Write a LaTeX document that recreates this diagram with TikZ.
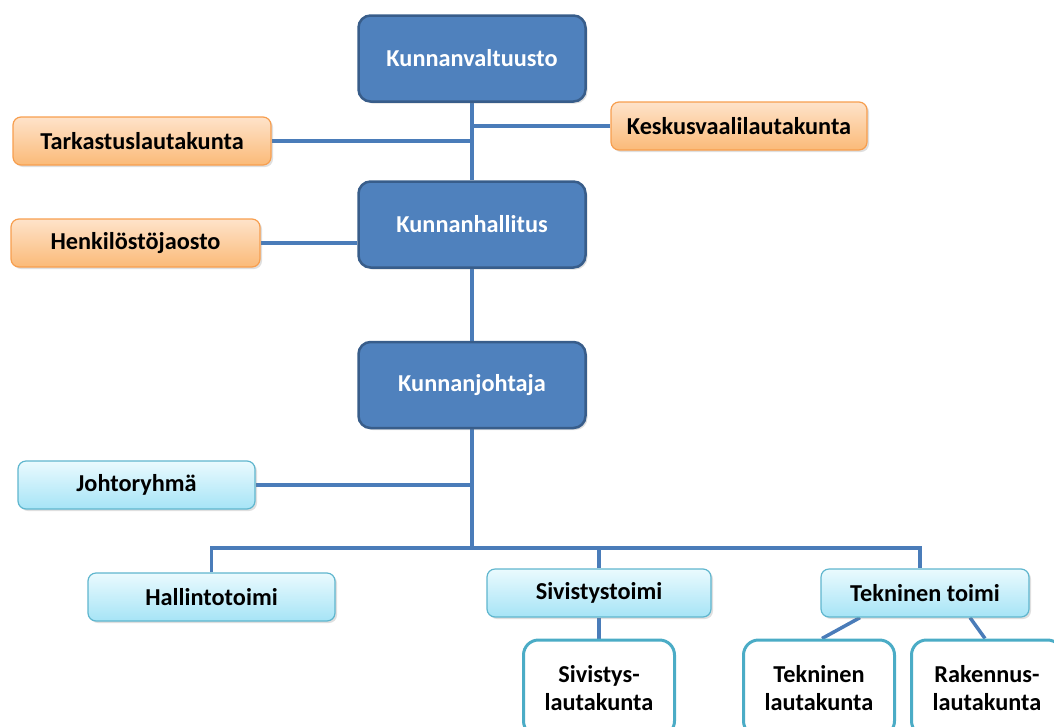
\documentclass[tikz,border=0pt]{standalone}
\usepackage{fontspec}
\setmainfont{Carlito}
\usetikzlibrary{shadows,calc,backgrounds}
\definecolor{bluefill}{HTML}{4F81BD}
\definecolor{blueborder}{HTML}{385D8A}
\definecolor{linecol}{HTML}{4A7CB9}
\definecolor{orTop}{HTML}{FEE3CA}
\definecolor{orBot}{HTML}{FBBA78}
\definecolor{orBorder}{HTML}{F79E4E}
\definecolor{cyTop}{HTML}{EAFAFE}
\definecolor{cyBot}{HTML}{A6E4F6}
\definecolor{cyBorder}{HTML}{5FB6CE}
\definecolor{tealBorder}{HTML}{4BACC6}
\tikzset{
  lbl/.style={font=\bfseries\fontsize{24.3}{28}\selectfont},
  mainbox/.style={lbl, draw=blueborder, line width=2.5pt, fill=bluefill, rounded corners=12pt,
    minimum width=227pt, minimum height=86pt, text=white,
    drop shadow={opacity=0.25, shadow xshift=2pt, shadow yshift=-2pt}},
  orbox/.style={lbl, draw=orBorder, line width=1.2pt, top color=orTop, bottom color=orBot,
    rounded corners=8pt, minimum height=48pt, text=black,
    drop shadow={opacity=0.25, shadow xshift=2pt, shadow yshift=-2pt}},
  cybox/.style={lbl, draw=cyBorder, line width=1.2pt, top color=cyTop, bottom color=cyBot,
    rounded corners=8pt, minimum height=48pt, text=black,
    drop shadow={opacity=0.25, shadow xshift=2pt, shadow yshift=-2pt}},
  wbox/.style={lbl, draw=tealBorder, line width=3pt, fill=white, rounded corners=15pt,
    minimum width=151pt, minimum height=96pt, align=center, text=black,
    font=\bfseries\fontsize{24.3}{28}\selectfont},
  conn/.style={draw=linecol, line width=3.5pt},
}
\begin{document}
\begin{tikzpicture}[x=1pt,y=-1pt]
\useasboundingbox (0,0) rectangle (1054,726);
\clip (0,0) rectangle (1054,726);
\node[mainbox] (valt) at (472,58.5) {Kunnanvaltuusto};
\node[mainbox] (hall) at (472,224.5) {Kunnanhallitus};
\node[mainbox] (kj) at (472,385) {Kunnanjohtaja};
\node[orbox, minimum width=258pt] (tark) at (142,141) {Tarkastuslautakunta};
\node[orbox, minimum width=256pt] (kesk) at (739,126) {Keskusvaalilautakunta};
\node[orbox, minimum width=249pt] (henk) at (135.5,243) {Henkilöstöjaosto};
\node[cybox, minimum width=237pt] (jr) at (136.5,485) {Johtoryhmä};
\node[cybox, minimum width=247pt] (halt) at (211.5,597) {Hallintotoimi};
\node[cybox, minimum width=224pt] (sivt) at (599,593) {Sivistystoimi};
\node[cybox, minimum width=208pt] (tekt) at (925,593) {Tekninen toimi};
\node[wbox] (sivl) at (599,688) {Sivistys-\\lautakunta};
\node[wbox] (tekl) at (819,688) {Tekninen\\lautakunta};
\node[wbox] (rakl) at (987,688) {Rakennus-\\lautakunta};
\coordinate (bus) at (472,548);
\coordinate (henkend) at (357,243);
\begin{pgfonlayer}{background}
\draw[conn] (valt.south) -- (hall.north);
\draw[conn] (hall.south) -- (kj.north);
\draw[conn] (kj.south) -- (bus);
\draw[conn] (tark.east) -- (tark.east -| valt.south);
\draw[conn] (kesk.west) -- (kesk.west -| valt.south);
\draw[conn] (henk.east) -- (henkend);
\draw[conn] (jr.east) -- (jr.east -| kj.south);
\draw[conn] (halt.north) |- (bus) -| (tekt.north -| 920,0);
\draw[conn] (sivt.north) -- (sivt.north |- bus);
\draw[conn] (sivt.south) -- (sivl.north);
\draw[conn] ($(tekt.south)+(-65,0)$) -- ($(tekl.north)+(3,0)$);
\draw[conn] ($(tekt.south)+(45,0)$) -- ($(rakl.north)+(-2,0)$);
\end{pgfonlayer}
\end{tikzpicture}
\end{document}
